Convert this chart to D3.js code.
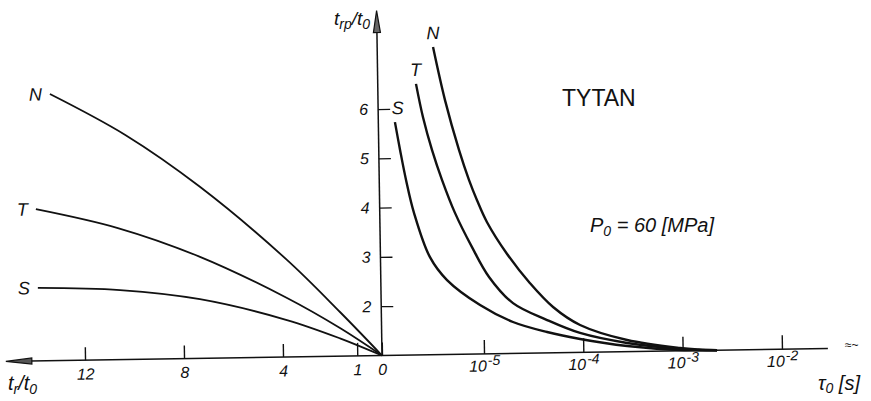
<!DOCTYPE html>
<html>
<head>
<meta charset="utf-8">
<script src="https://cdn.jsdelivr.net/npm/d3@7"></script>
<style>
  body { margin: 0; background: #fff; }
  text { font-family: "Liberation Sans", "DejaVu Sans", sans-serif; fill: #111; }
</style>
</head>
<body>
<svg id="chart" width="871" height="401"></svg>
<script>
// ---- data ---------------------------------------------------------------
// Left panel: t_rp/t_0 as a function of t_r/t_0
const leftTicks = [12, 8, 4, 1, 0];
const leftN = [[13.25, 6.41], [10.23, 5.555], [7.25, 4.48], [3.78, 2.97], [1.67, 1.896], [0, 1]];
const leftT = [[13.89, 4.08], [10.59, 3.67], [7.29, 3.06], [3.80, 2.197], [1.68, 1.571], [0, 1]];
const leftS = [[13.86, 2.48], [10.54, 2.41], [7.32, 2.20], [3.82, 1.75], [1.686, 1.362], [0, 1]];

// Right panel: t_rp/t_0 as a function of tau_0 [s]
const rightTicks = [1e-5, 1e-4, 1e-3, 1e-2];
const rightExp = ["-5", "-4", "-3", "-2"];
const rightN = [[3.43e-6, 7.24], [4.44e-6, 6.16], [6.04e-6, 5.14], [7.53e-6, 4.53], [8.99e-6, 4.12],
                [1.125e-5, 3.67], [1.77e-5, 3.02], [2.98e-5, 2.42], [5.04e-5, 1.93], [9.37e-5, 1.556],
                [2.77e-4, 1.236], [9.42e-4, 1.057], [1.45e-3, 1.02], [2.22e-3, 1.0]];
const rightT = [[2.28e-6, 6.50], [2.65e-6, 5.82], [3.23e-6, 5.15], [4.03e-6, 4.54], [5.37e-6, 3.87],
                [7.87e-6, 3.17], [1.155e-5, 2.56], [1.995e-5, 2.02], [4.37e-5, 1.667], [9.33e-5, 1.394],
                [2.77e-4, 1.176], [9.42e-4, 1.037], [1.45e-3, 1.01], [2.22e-3, 1.0]];
const rightS = [[1.38e-6, 5.73], [1.54e-6, 5.16], [1.75e-6, 4.55], [2.08e-6, 3.88], [2.96e-6, 2.98],
                [4.36e-6, 2.51], [9.29e-6, 1.993], [1.98e-5, 1.638], [4.35e-5, 1.424], [9.33e-5, 1.272],
                [2.77e-4, 1.115], [9.42e-4, 1.017], [2.22e-3, 1.0]];

const yTicks = [2, 3, 4, 5, 6];
const seriesNames = ["N", "T", "S"];

// ---- layout -------------------------------------------------------------
const svg = d3.select("#chart");
// the drawing sits slightly tilted on the sheet
const g = svg.append("g").attr("transform", "translate(382,355.5) rotate(-0.9)");

const xL = d3.scaleLinear().domain([0, 15]).range([0, -371.25]);
const xR = d3.scaleLog().domain([1e-6, 1e-2]).range([2.7, 400]);
const y = d3.scaleLinear().domain([1, 8]).range([0, -345]);

const curve = d3.curveCatmullRom.alpha(0.5);
const lineL = d3.line().x(d => xL(d[0])).y(d => y(d[1])).curve(curve);
const lineR = d3.line().x(d => xR(d[0])).y(d => y(d[1])).curve(curve);

// ---- axes ---------------------------------------------------------------
// base line across both panels
g.append("line").attr("x1", xL(14.2)).attr("x2", xR(2.9e-2)).attr("y1", 0).attr("y2", 0)
  .attr("stroke", "#111").attr("stroke-width", 1.5);
// vertical axis
g.append("line").attr("x1", 0).attr("x2", 0).attr("y1", 0).attr("y2", y(7.6))
  .attr("stroke", "#111").attr("stroke-width", 1.5);

// arrow heads
const lx = xL(15.2), ly = 0;
g.append("path")
  .attr("d", `M${lx},${ly} L${lx + 26},${ly - 3} L${lx + 26},${ly + 3} Z`)
  .attr("fill", "#555").attr("stroke", "#111").attr("stroke-width", 1.2);
const ty = y(8);
g.append("path")
  .attr("d", `M0,${ty} L-3.5,${ty + 22} L3.5,${ty + 22} Z`)
  .attr("fill", "#666").attr("stroke", "#111").attr("stroke-width", 1.2);

// left abscissa ticks
const axL = d3.axisBottom(xL).tickValues(leftTicks).tickSizeInner(-13).tickSizeOuter(0)
  .tickPadding(8).tickFormat(d3.format("d"));
const gL = g.append("g").call(axL);
gL.select(".domain").remove();
gL.selectAll(".tick line").attr("stroke", "#111").attr("stroke-width", 1.4);
gL.selectAll(".tick text").attr("font-size", 16).attr("font-style", "italic")
  .attr("font-family", null).attr("fill", "#111");

// right logarithmic abscissa
const axR = d3.axisBottom(xR).tickValues(rightTicks).tickSizeInner(-14).tickSizeOuter(0)
  .tickPadding(6).tickFormat(() => "");
const gR = g.append("g").call(axR);
gR.select(".domain").remove();
gR.selectAll(".tick line").attr("stroke", "#111").attr("stroke-width", 1.4);
gR.selectAll(".tick text").each(function (d, i) {
  const t = d3.select(this).attr("font-style", "italic").attr("font-family", null)
    .attr("fill", "#111").attr("text-anchor", "middle").attr("dy", "1.15em");
  t.append("tspan").attr("font-size", 16).text("10");
  t.append("tspan").attr("font-size", 14).attr("dy", "-0.45em").attr("dx", 1).text(rightExp[i]);
});

// ordinate ticks (inside, to the right)
const axY = d3.axisLeft(y).tickValues(yTicks).tickSizeInner(-12).tickSizeOuter(0)
  .tickPadding(10).tickFormat(d3.format("d"));
const gY = g.append("g").call(axY);
gY.select(".domain").remove();
gY.selectAll(".tick line").attr("stroke", "#111").attr("stroke-width", 1.3);
gY.selectAll(".tick text").attr("font-size", 16).attr("font-style", "italic")
  .attr("font-family", null)
  .attr("fill", d => d === 6 ? "#111" : "#c4c4c4");

// ---- curves -------------------------------------------------------------
const leftSeries = [leftN, leftT, leftS];
const rightSeries = [rightN, rightT, rightS];

leftSeries.forEach(s => {
  g.append("path").datum(s).attr("d", lineL)
    .attr("fill", "none").attr("stroke", "#111").attr("stroke-width", 1.8);
});
rightSeries.forEach(s => {
  g.append("path").datum(s).attr("d", lineR)
    .attr("fill", "none").attr("stroke", "#111").attr("stroke-width", 2.4);
});

// curve letters
leftSeries.forEach((s, i) => {
  g.append("text").attr("x", xL(s[0][0]) - 8).attr("y", y(s[0][1]))
    .attr("dy", "0.35em").attr("text-anchor", "end")
    .attr("font-size", 18).attr("font-style", "italic").text(seriesNames[i]);
});
rightSeries.forEach((s, i) => {
  g.append("text").attr("x", xR(s[0][0]) + (i === 2 ? 3 : 0)).attr("y", y(s[0][1]) - 8)
    .attr("text-anchor", "middle")
    .attr("font-size", 18).attr("font-style", "italic").text(seriesNames[i]);
});

// ---- titles ---------------------------------------------------------------
const yTitle = svg.append("text").attr("x", 334).attr("y", 25).attr("font-size", 19).attr("font-style", "italic");
yTitle.append("tspan").text("t");
yTitle.append("tspan").attr("font-size", 14).attr("dy", 4).text("rp");
yTitle.append("tspan").attr("dy", -4).text("/t");
yTitle.append("tspan").attr("font-size", 14).attr("dy", 4).text("0");

const xlTitle = svg.append("text").attr("x", 8).attr("y", 390).attr("font-size", 20).attr("font-style", "italic");
xlTitle.append("tspan").text("t");
xlTitle.append("tspan").attr("font-size", 14).attr("dy", 4).text("r");
xlTitle.append("tspan").attr("dy", -4).text("/t");
xlTitle.append("tspan").attr("font-size", 14).attr("dy", 4).text("0");

const xrTitle = svg.append("text").attr("x", 818).attr("y", 390).attr("font-size", 20).attr("font-style", "italic");
xrTitle.append("tspan").text("τ");
xrTitle.append("tspan").attr("font-size", 14).attr("dy", 3).text("0");
xrTitle.append("tspan").attr("dy", -3).text(" [s]");

svg.append("text").attr("x", 845).attr("y", 349).attr("font-size", 12).attr("fill", "#666").text("≈~");

svg.append("text").attr("x", 562).attr("y", 106).attr("font-size", 23).text("TYTAN");

const pTitle = svg.append("text").attr("x", 590).attr("y", 232).attr("font-size", 20).attr("font-style", "italic");
pTitle.append("tspan").text("P");
pTitle.append("tspan").attr("font-size", 14).attr("dy", 4).text("0");
pTitle.append("tspan").attr("dy", -4).text(" = 60 [MPa]");
</script>
</body>
</html>
